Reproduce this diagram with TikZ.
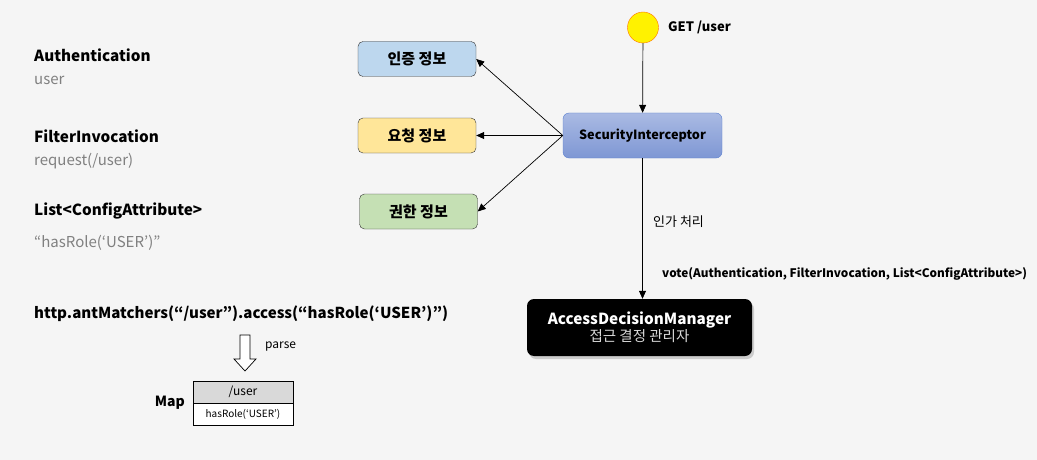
\documentclass[tikz,border=0pt]{standalone}
\usepackage{fontspec}
\setmainfont{Noto Sans CJK KR}
\usetikzlibrary{arrows.meta,shadows,positioning}

\definecolor{bggray}{HTML}{F5F5F5}
\definecolor{valgray}{HTML}{808080}
\definecolor{authblue}{HTML}{BDD7EE}
\definecolor{reqyellow}{HTML}{FFE699}
\definecolor{rolegreen}{HTML}{C5E0B4}
\definecolor{sitop}{HTML}{AABAE3}
\definecolor{sibot}{HTML}{7E97D4}
\definecolor{siline}{HTML}{5A7FD0}
\definecolor{keygray}{HTML}{D9D9D9}

\begin{document}
\begin{tikzpicture}[x=1pt,y=-1pt,
    info/.style={draw=black!80, rounded corners=5pt, minimum width=118pt, minimum height=35pt,
      font=\fontsize{15}{17}\selectfont\bfseries},
    arr/.style={-{Triangle[length=8pt,width=7pt]}, line width=0.7pt},
    title/.style={anchor=west, inner sep=0pt, font=\fontsize{15.3}{18}\selectfont\bfseries},
    value/.style={anchor=west, inner sep=0pt, text=valgray, font=\fontsize{15}{18}\selectfont},
    cell/.style={draw, line width=0.6pt, minimum width=100pt, minimum height=22pt, inner sep=0pt}]
    \fill [bggray] (0,0) rectangle (1037,460);
    \useasboundingbox (0,0) rectangle (1037,460);

    % left column
    \node [title] (authname) at (34,55) {Authentication};
    \node [value] (authval) at (34,80) {user};
    \node [title] (filtname) at (34,136) {FilterInvocation};
    \node [value] (filtval) at (34,161) {request(/user)};
    \node [title] (listname) at (34,211) {List<ConfigAttribute>};
    \node [value] (listval) at (34,243) {“hasRole(‘USER’)”};
    \node [title, font=\fontsize{15.1}{18}\selectfont\bfseries] (config) at (34,314) {http.antMatchers(“/user”).access(“hasRole(‘USER’)”)};

    \draw [fill=white, line width=0.7pt] (240,335) -- (250,335) -- (250,359) -- (256,359) -- (245,371) -- (234,359) -- (240,359) -- cycle;
    \node [anchor=west, inner sep=0pt, font=\fontsize{12}{14}\selectfont] (parse) at (265,347) {parse};

    \node [cell, fill=keygray, font=\fontsize{12}{14}\selectfont] (mapkey) at (243,392) {/user};
    \node [cell, fill=white, font=\fontsize{10}{12}\selectfont, below=0pt of mapkey] (mapval) {hasRole(‘USER’)};
    \node [anchor=east, inner sep=0pt, font=\fontsize{14}{16}\selectfont\bfseries] (maplabel) at (185,403) {Map};

    % info boxes
    \node [info, fill=authblue] (auth) at (417,59) {인증 정보};
    \node [info, fill=reqyellow] (req) at (417,135.5) {요청 정보};
    \node [info, fill=rolegreen] (role) at (418.5,211.5) {권한 정보};

    % request flow
    \node [circle, draw=orange!90!red, fill=yellow, minimum size=31pt, inner sep=0pt] (start) at (643,27.5) {};
    \node [anchor=west, inner sep=0pt, font=\fontsize{13}{15}\selectfont\bfseries] (getlabel) at (668,27) {GET /user};
    \node [draw=siline, top color=sitop, bottom color=sibot, rounded corners=6pt,
      minimum width=159pt, minimum height=45pt, font=\fontsize{12.7}{15}\selectfont\bfseries] (si) at (642.5,135.5) {SecurityInterceptor};
    \node [fill=black, rounded corners=7pt, minimum width=225pt, minimum height=57pt, inner sep=0pt,
      drop shadow={opacity=0.35, shadow xshift=2pt, shadow yshift=-3pt},
      text=white, align=center] (adm) at (639.5,327.5)
      {{\fontsize{15.3}{18}\selectfont\bfseries AccessDecisionManager}\\[0pt]{\fontsize{14.5}{16}\selectfont\color{black!15}접근 결정 관리자}};

    \draw [arr] (start) -- (si);
    \draw [arr] (si.west) -- (auth.east);
    \draw [arr] (si.west) -- (req.east);
    \draw [arr] (si.west) -- (role.east);
    \draw [arr] (si.south) -- (si.south |- adm.north);

    \node [anchor=west, inner sep=0pt, font=\fontsize{13}{15}\selectfont] (authz) at (653,222) {인가 처리};
    \node [anchor=west, inner sep=0pt, font=\fontsize{11.8}{14}\selectfont\bfseries] (vote) at (662,274) {vote(Authentication, FilterInvocation, List<ConfigAttribute>)};
\end{tikzpicture}
\end{document}
